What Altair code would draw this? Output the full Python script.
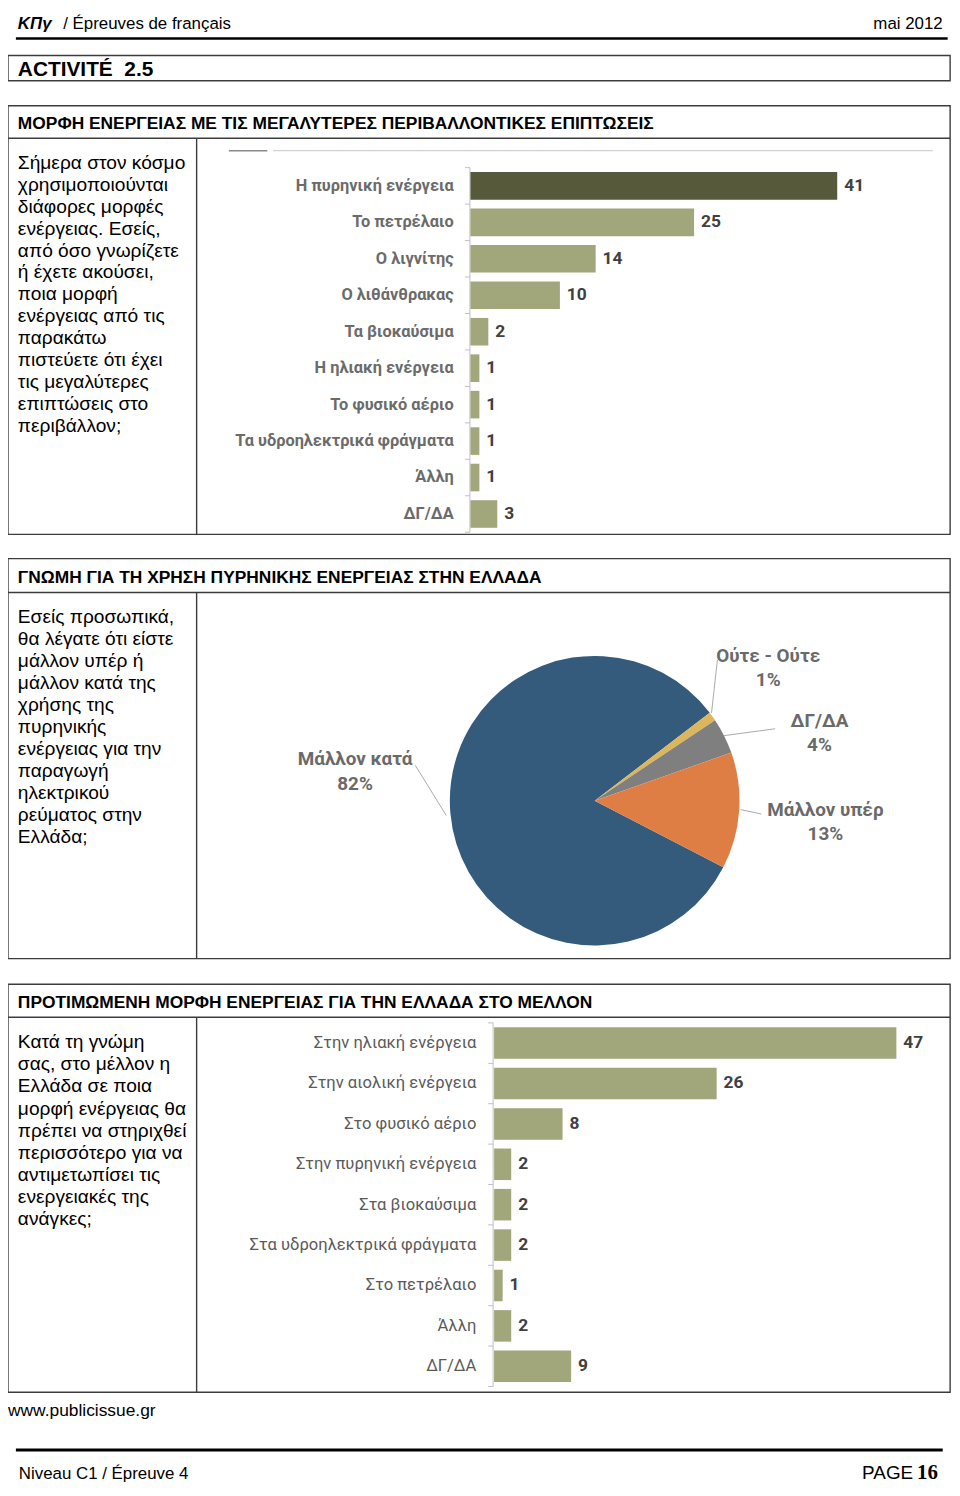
import math
import altair as alt
import pandas as pd

# ---------------- data ----------------
q1_categories = ["Η πυρηνική ενέργεια", "Το πετρέλαιο", "Ο λιγνίτης", "Ο λιθάνθρακας",
                 "Τα βιοκαύσιμα", "Η ηλιακή ενέργεια", "Το φυσικό αέριο",
                 "Τα υδροηλεκτρικά φράγματα", "Άλλη", "ΔΓ/ΔΑ"]
q1_values = [41, 25, 14, 10, 2, 1, 1, 1, 1, 3]

pie_categories = ["Μάλλον κατά", "Ούτε - Ούτε", "ΔΓ/ΔΑ", "Μάλλον υπέρ"]
pie_values = [82, 1, 4, 13]

q3_categories = ["Στην ηλιακή ενέργεια", "Στην αιολική ενέργεια", "Στο φυσικό αέριο",
                 "Στην πυρηνική ενέργεια", "Στα βιοκαύσιμα", "Στα υδροηλεκτρικά φράγματα",
                 "Στο πετρέλαιο", "Άλλη", "ΔΓ/ΔΑ"]
q3_values = [47, 26, 8, 2, 2, 2, 1, 2, 9]

header_left = "ΚΠγ"
header_mid = "/ Épreuves de français"
header_right = "mai 2012"
activity = "ACTIVITÉ\u00a0\u00a02.5"
title1 = "ΜΟΡΦΗ ΕΝΕΡΓΕΙΑΣ ΜΕ ΤΙΣ ΜΕΓΑΛΥΤΕΡΕΣ ΠΕΡΙΒΑΛΛΟΝΤΙΚΕΣ ΕΠΙΠΤΩΣΕΙΣ"
title2 = "ΓΝΩΜΗ ΓΙΑ ΤΗ ΧΡΗΣΗ ΠΥΡΗΝΙΚΗΣ ΕΝΕΡΓΕΙΑΣ ΣΤΗΝ ΕΛΛΑΔΑ"
title3 = "ΠΡΟΤΙΜΩΜΕΝΗ ΜΟΡΦΗ ΕΝΕΡΓΕΙΑΣ ΓΙΑ ΤΗΝ ΕΛΛΑΔΑ ΣΤΟ ΜΕΛΛΟΝ"
question1 = ["Σήμερα στον κόσμο", "χρησιμοποιούνται", "διάφορες μορφές",
             "ενέργειας. Εσείς,", "από όσο γνωρίζετε", "ή έχετε ακούσει,",
             "ποια μορφή", "ενέργειας από τις", "παρακάτω", "πιστεύετε ότι έχει",
             "τις μεγαλύτερες", "επιπτώσεις στο", "περιβάλλον;"]
question2 = ["Εσείς προσωπικά,", "θα λέγατε ότι είστε", "μάλλον υπέρ ή",
             "μάλλον κατά της", "χρήσης της", "πυρηνικής", "ενέργειας για την",
             "παραγωγή", "ηλεκτρικού", "ρεύματος στην", "Ελλάδα;"]
question3 = ["Κατά τη γνώμη", "σας, στο μέλλον η", "Ελλάδα σε ποια",
             "μορφή ενέργειας θα", "πρέπει να στηριχθεί", "περισσότερο για να",
             "αντιμετωπίσει τις", "ενεργειακές της", "ανάγκες;"]
source = "www.publicissue.gr"
footer_left = "Niveau C1 / Épreuve 4"
footer_page = "PAGE"
footer_num = "16"

# ---------------- layout / style ----------------
W, H = 951, 1480
SX = 949.6 / 956
SY = 1480 / 1491


def fx(x):
    return round((x - 2) * SX, 2)


def fy(y):
    return round((y - 4) * SY, 2)


SANS = "Liberation Sans"
NARROW = "Liberation Sans Narrow"
CHART = "Roboto"
BOX = "#3c3c3c"
AXIS = "#bfbfbf"
DARK = "#565a3b"
LIGHT = "#a2a67b"
PIE_COLORS = ["#345a7c", "#dcb65a", "#7f7f7f", "#df7e44"]
PIE_START = math.radians(117.4)
PIE_CENTER = (597, 803)
PIE_R = 147
PIE_LABEL_POS = [(354, 766.7), (773, 662), (825, 728), (831, 818.3)]
PIE_LEADERS = [(415, 767, 446.5, 818), (721.5, 660, 715.5, 714), (780, 730, 728, 737),
               (766, 816.5, 745, 812)]

one = pd.DataFrame({"k": [0]})


def txt(x, y, s, size, weight="normal", font=SANS, color="#000000", align="left",
        italic=False, line_height=None):
    kw = dict(text=s, fontSize=size, fontWeight=weight, font=font, color=color,
              align=align, baseline="alphabetic")
    if italic:
        kw["fontStyle"] = "italic"
    if line_height:
        kw["lineHeight"] = line_height
    return alt.Chart(one).mark_text(**kw).encode(x=alt.value(fx(x)), y=alt.value(fy(y)))


def box(x1, y1, x2, y2, color=BOX, width=1.4, fill="white"):
    return alt.Chart(one).mark_rect(fill=fill, stroke=color, strokeWidth=width).encode(
        x=alt.value(fx(x1)), x2=alt.value(fx(x2)), y=alt.value(fy(y1)), y2=alt.value(fy(y2)))


def line(x1, y1, x2, y2, color=BOX, width=1.4):
    return alt.Chart(one).mark_rule(color=color, strokeWidth=width).encode(
        x=alt.value(fx(x1)), x2=alt.value(fx(x2)), y=alt.value(fy(y1)), y2=alt.value(fy(y2)))


def bar_block(cats, vals, x_start, x_end, band_top, band_bottom, bar_h, axis_x,
              label_x, label_size, label_weight, label_color, highlight_first):
    df = pd.DataFrame({"cat": cats, "val": vals})
    step = (band_bottom - band_top) / len(cats)
    pin = (step - bar_h) / step
    yscale = alt.Scale(domain=cats, range=[fy(band_top), fy(band_bottom)],
                       paddingInner=pin, paddingOuter=pin / 2)
    xscale = alt.Scale(range=[fx(x_start), fx(x_end)], zero=True, nice=False)
    y_enc = alt.Y("cat:N", scale=yscale, axis=None)
    x_enc = alt.X("val:Q", scale=xscale, axis=None)
    if highlight_first:
        color = alt.condition(alt.datum.cat == cats[0], alt.value(DARK), alt.value(LIGHT))
    else:
        color = alt.value(LIGHT)
    base = alt.Chart(df)
    half_gap = pin * step / 2 * SY
    ticks = base.mark_rule(color=AXIS, strokeWidth=1, yOffset=-half_gap).encode(
        x=alt.value(fx(axis_x - 5)), x2=alt.value(fx(axis_x)),
        y=alt.Y("cat:N", scale=yscale, axis=None, bandPosition=0))
    bars = base.mark_bar().encode(x=x_enc, y=y_enc, color=color)
    cat_labels = base.mark_text(align="right", baseline="middle", font=CHART,
                                fontSize=label_size, fontWeight=label_weight,
                                color=label_color).encode(
        x=alt.value(fx(label_x)), y=y_enc, text="cat:N")
    val_labels = base.mark_text(align="left", baseline="middle", dx=7, font=CHART,
                                fontSize=17.5, fontWeight="bold", color="#404040").encode(
        x=x_enc, y=y_enc, text="val:Q")
    return [line(axis_x, band_top, axis_x, band_bottom, color=AXIS, width=1),
            line(axis_x - 5, band_bottom, axis_x, band_bottom, color=AXIS, width=1),
            alt.layer(ticks, bars, cat_labels, val_labels)]


layers = []

# header
layers += [
    txt(12, 19.5, header_left, 17, weight="bold", italic=True),
    txt(58, 19.5, header_mid, 17),
    txt(950, 19.5, header_right, 17, align="right"),
    line(10, 29.5, 955, 29.5, color="#000000", width=2.6),
]

# activity box
layers += [box(2, 46.7, 957.5, 72.3), txt(12, 67, activity, 21, weight="bold")]

# section boxes
for top, div, bottom in [(97.7, 130.7, 532.7), (557.3, 591.7, 963.3), (989.3, 1022.7, 1403.3)]:
    layers += [box(2, top, 957.5, bottom), line(2, div, 957.5, div), line(193.3, div, 193.3, bottom)]

# section titles and questions
layers += [
    txt(12, 121.7, title1, 17.5, weight="bold"),
    txt(12, 581.7, title2, 17.5, weight="bold"),
    txt(12, 1013.3, title3, 17.5, weight="bold"),
    txt(12, 161.5, question1, 19.3, line_height=22.3 * SY),
    txt(12, 622.7, question2, 19.3, line_height=22.3 * SY),
    txt(12, 1054, question3, 19.3, line_height=22.5 * SY),
]

# chart 1 top strip
layers += [line(271, 143.3, 940, 143.3, color="#c8c8c8", width=1),
           line(226, 143.3, 265, 143.3, color="#8a8a8a", width=1.6)]

# chart 1 bars
layers += bar_block(q1_categories, q1_values, 471, 843, 160.5, 530.5, 28, 470.5,
                    454, 16.5, "bold", "#6b6b6b", True)

# pie chart
pie_df = pd.DataFrame({"cat": pie_categories, "pct": pie_values,
                       "k": list(range(len(pie_categories)))})
pie_df["lab"] = pie_df["pct"].astype(str) + "%"
pie_df["lx"] = [fx(p[0]) for p in PIE_LABEL_POS]
pie_df["ly1"] = [fy(p[1]) for p in PIE_LABEL_POS]
pie_df["ly2"] = [fy(p[1] + 25) for p in PIE_LABEL_POS]

arcs = alt.Chart(pie_df).mark_arc(outerRadius=PIE_R * SY).encode(
    theta=alt.Theta("pct:Q", stack=True,
                    scale=alt.Scale(range=[PIE_START, PIE_START + 2 * math.pi])),
    order=alt.Order("k:Q"),
    color=alt.Color("cat:N", scale=alt.Scale(domain=pie_categories, range=PIE_COLORS),
                    legend=None),
    x=alt.value(fx(PIE_CENTER[0])), y=alt.value(fy(PIE_CENTER[1])))
layers.append(arcs)
for (x1, y1, x2, y2) in PIE_LEADERS:
    layers.append(line(x1, y1, x2, y2, color="#a0a0a0", width=0.9))
pie_names = alt.Chart(pie_df).mark_text(font=CHART, fontSize=19, fontWeight="bold",
                                        color="#6a6a6a", align="center",
                                        baseline="alphabetic").encode(
    x=alt.X("lx:Q", scale=None, axis=None), y=alt.Y("ly1:Q", scale=None, axis=None),
    text="cat:N")
pie_pcts = alt.Chart(pie_df).mark_text(font=CHART, fontSize=19, fontWeight="bold",
                                       color="#6a6a6a", align="center",
                                       baseline="alphabetic").encode(
    x=alt.X("lx:Q", scale=None, axis=None), y=alt.Y("ly2:Q", scale=None, axis=None),
    text="lab:N")
layers += [pie_names, pie_pcts]

# chart 3 bars
layers += bar_block(q3_categories, q3_values, 495, 903, 1028.5, 1397.5, 32, 494,
                    477, 16.7, "normal", "#5a5a5a", False)

# footer
layers += [
    txt(2, 1427, source, 17.5),
    line(10, 1462, 950, 1462, color="#000000", width=3),
    txt(13, 1491.5, footer_left, 17),
    txt(920, 1491.5, footer_page, 19, align="right"),
    txt(945, 1491.5, footer_num, 21, weight="bold", font=NARROW, align="right"),
]

chart = alt.layer(*layers).resolve_scale(
    x="independent", y="independent", color="independent", theta="independent"
).properties(
    width=W, height=H, padding=0, autosize=alt.AutoSizeParams(type="none")
).configure_view(stroke="transparent")

chart.save("out.html", embed_options={"renderer": "svg", "actions": False})
